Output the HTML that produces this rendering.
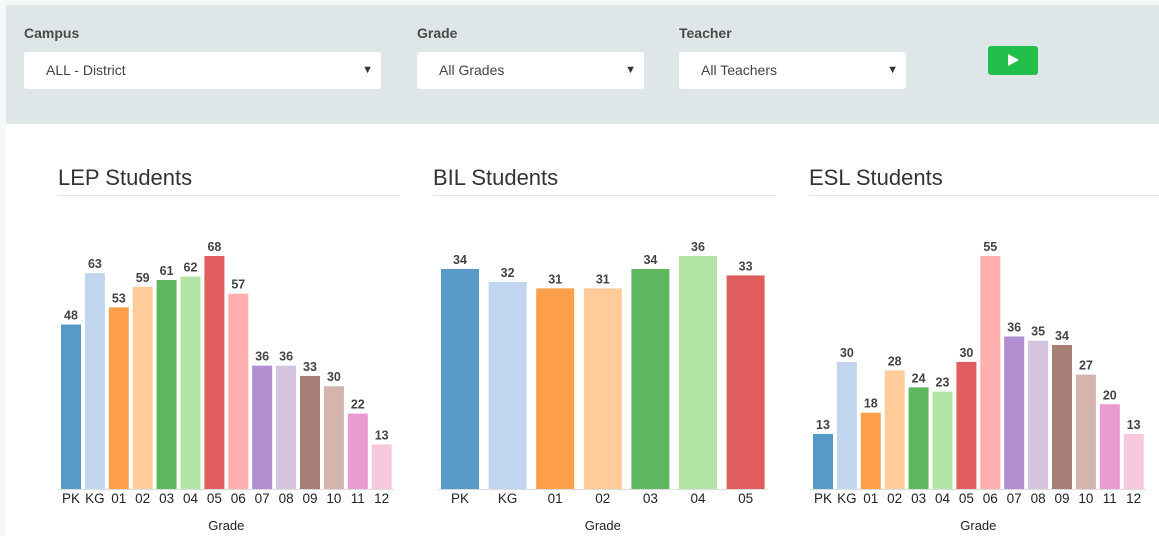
<!DOCTYPE html>
<html><head><meta charset="utf-8"><style>
body{margin:0;width:1159px;height:536px;overflow:hidden;background:#f5f7f9;font-family:"Liberation Sans",sans-serif;position:relative}
.band{position:absolute;left:6px;top:5px;width:1153px;height:119px;background:#dfe6e8}
.main{position:absolute;left:6px;top:124px;width:1153px;height:412px;background:#fff}
.lbl{position:absolute;top:25px;font-size:14px;font-weight:bold;color:#4a4a4a}
.sel{position:absolute;top:52px;height:37px;background:#fff;border-radius:3px;font-size:14px;color:#444;line-height:37px;box-sizing:border-box;padding-left:22px}
.sel span{position:absolute;right:8px;top:0;font-size:11px;color:#333}
.btn{position:absolute;left:988px;top:46px;width:50px;height:29px;background:#22c04a;border-radius:3px}
.btn:after{content:"";position:absolute;left:20px;top:8px;border-left:11px solid #fff;border-top:6px solid transparent;border-bottom:6px solid transparent}
</style></head><body>
<div class="band"></div>
<div class="main"></div>
<div class="lbl" style="left:24px">Campus</div>
<div class="sel" style="left:24px;width:357px">ALL - District<span>▼</span></div>
<div class="lbl" style="left:417px">Grade</div>
<div class="sel" style="left:417px;width:227px">All Grades<span>▼</span></div>
<div class="lbl" style="left:679px">Teacher</div>
<div class="sel" style="left:679px;width:227px">All Teachers<span>▼</span></div>
<div class="btn"></div>
<svg id="s" width="1159" height="536" style="position:absolute;left:0;top:0"></svg>
<script>
const lepCats=["PK","KG","01","02","03","04","05","06","07","08","09","10","11","12"];
const lepVals=[48,63,53,59,61,62,68,57,36,36,33,30,22,13];
const bilCats=["PK","KG","01","02","03","04","05"];
const bilVals=[34,32,31,31,34,36,33];
const eslCats=["PK","KG","01","02","03","04","05","06","07","08","09","10","11","12"];
const eslVals=[13,30,18,28,24,23,30,55,36,35,34,27,20,13];
const colors=["#5799c7","#c2d5ee","#ff9f4a","#ffcc99","#60b760","#b2e5a6","#e05d5d","#ffb0ae","#b08ecf","#d4c4e0","#a77f77","#d3b5ae","#e99ad0","#f7c8dd"];
const svg=document.getElementById('s');const NS="http://www.w3.org/2000/svg";
function mk(t,a,txt){const e=document.createElementNS(NS,t);for(const k in a)e.setAttribute(k,a[k]);if(txt!==undefined)e.textContent=txt;svg.appendChild(e);return e;}
function chart(name,title,cats,vals,x0,x1,step,bw,firstX){
  const t=mk('text',{x:x0,y:185,'font-size':22,fill:'#333'},title);
  
  
  const u=mk('line',{x1:x0,x2:x1,y1:195.5,y2:195.5,stroke:'#e2e2e2'});
  
  
  const base=489,top=256,max=Math.max(...vals);
  const y=v=>base-(v/max)*(base-top);
  const xs=i=>firstX+i*step;
  const ax=mk('line',{x1:firstX-3,x2:xs(cats.length-1)+bw+3,y1:base+0.5,y2:base+0.5,stroke:'#ddd'});
  
  
  cats.forEach((c,i)=>{
    const r=mk('rect',{x:xs(i),y:y(vals[i]),width:bw,height:base-y(vals[i]),fill:colors[i%colors.length]});
    
    
    const v=mk('text',{x:xs(i)+bw/2,y:y(vals[i])-5,'text-anchor':'middle','font-size':12.5,'font-weight':'bold',fill:'#444'},vals[i]);
    
    
    const l=mk('text',{x:xs(i)+bw/2,y:503,'text-anchor':'middle','font-size':13.5,fill:'#222'},c);
    
    
  });
  const g=mk('text',{x:(firstX+xs(cats.length-1)+bw)/2,y:530,'text-anchor':'middle','font-size':13,fill:'#222'},'Grade');
  
  
}
chart('lep','LEP Students',lepCats,lepVals,58,400,23.9,20,61);
chart('bil','BIL Students',bilCats,bilVals,433,776,47.6,38,441);
chart('esl','ESL Students',eslCats,eslVals,809,1159,23.9,20,813);
</script>
</body></html>
